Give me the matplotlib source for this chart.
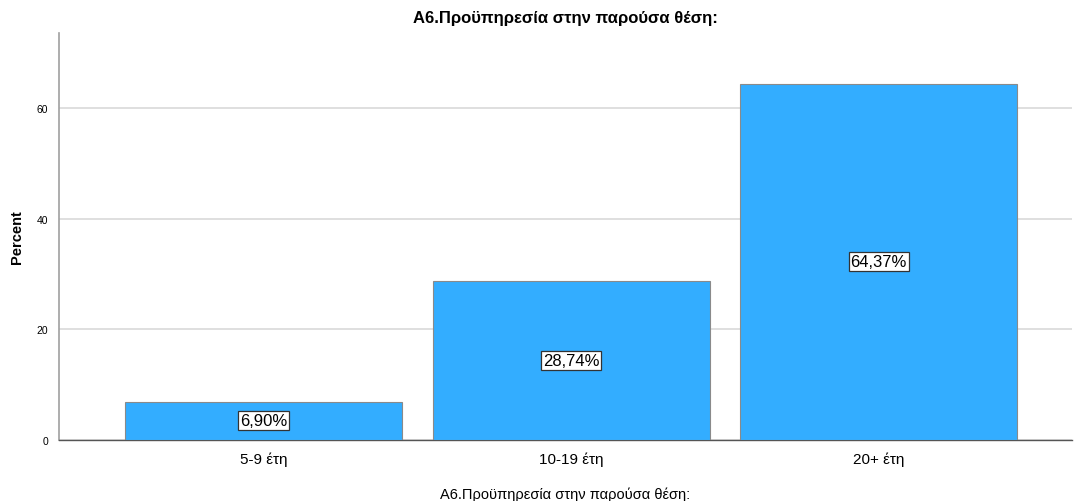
import matplotlib
matplotlib.use("Agg")
import matplotlib.pyplot as plt

categories = ["5-9 έτη", "10-19 έτη", "20+ έτη"]
percents = [6.90, 28.74, 64.37]
labels = ["6,90%", "28,74%", "64,37%"]
title = "A6.Προϋπηρεσία στην παρούσα θέση:"

plt.rcParams['font.family'] = ['Liberation Sans', 'DejaVu Sans']

fig = plt.figure(figsize=(10.75, 5.02), dpi=100)
ax = fig.add_axes([0.0549, 0.1215, 0.942, 0.8105])

x = list(range(len(categories)))
bars = ax.bar(x, percents, width=0.9, color='#33adff', edgecolor='#8a8a8a', linewidth=0.8, zorder=3)

for xi, val, lab in zip(x, percents, labels):   # labels sit in the middle of each bar
    ax.text(xi, val / 2, lab, ha='center', va='center', fontsize=12, zorder=4,
            bbox=dict(boxstyle='square,pad=0.12', facecolor='white', edgecolor='#333333', linewidth=0.9))

ax.set_xlim(-0.664, 2.627)
ax.set_ylim(0, 73.5)
ax.set_yticks([0, 20, 40, 60])
ax.yaxis.grid(True, color='#d9d9d9', linewidth=1.2, zorder=0)
ax.set_xticks(x)
ax.set_xticklabels(categories, fontsize=11)
ax.tick_params(axis='y', labelsize=7.5, length=0, pad=8)
ax.tick_params(axis='x', length=0, pad=8)

for side in ['top', 'right']:
    ax.spines[side].set_visible(False)
ax.spines['left'].set_color('#a0a0a0')
ax.spines['left'].set_linewidth(1.2)
ax.spines['bottom'].set_color('#555555')
ax.spines['bottom'].set_linewidth(1.0)

ax.set_title(title, fontsize=12, fontweight='bold', pad=8)
ax.set_xlabel(title, fontsize=10.5, labelpad=15)
ax.set_ylabel("Percent", fontsize=10.5, fontweight='bold')
ax.yaxis.set_label_coords(-0.035, 0.5)

fig.savefig("out.png", dpi=100)
